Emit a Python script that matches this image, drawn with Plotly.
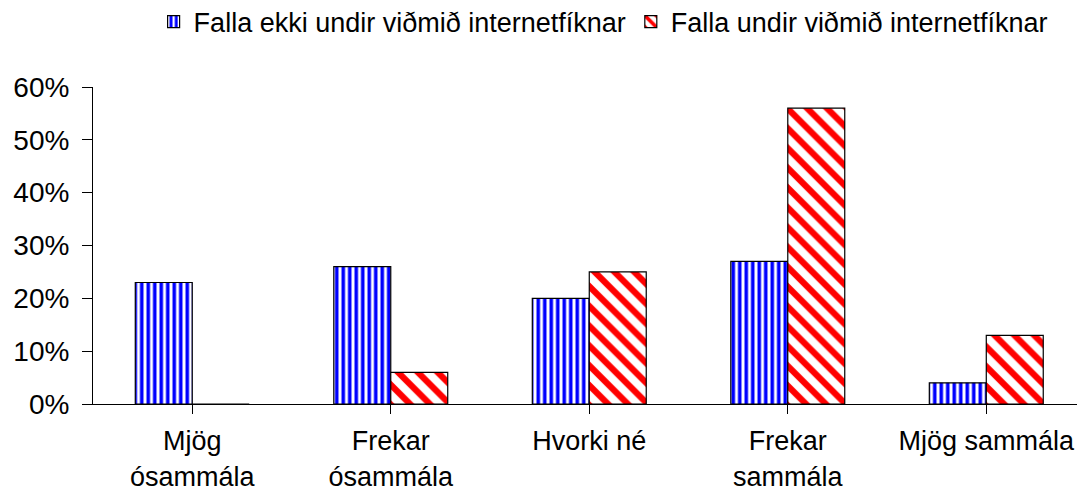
import plotly.graph_objects as go

categories = ["Mjög<br>ósammála", "Frekar<br>ósammála", "Hvorki né", "Frekar<br>sammála", "Mjög sammála"]
series_names = ["Falla ekki undir viðmið internetfíknar", "Falla undir viðmið internetfíknar"]
not_addicted = [0.23, 0.26, 0.20, 0.27, 0.04]
addicted = [0.0, 0.06, 0.25, 0.56, 0.13]
y_ticks = [0, 0.1, 0.2, 0.3, 0.4, 0.5, 0.6]
y_tick_labels = ["0%", "10%", "20%", "30%", "40%", "50%", "60%"]

font_family = "Liberation Sans, Arial, sans-serif"
FS = 27

fig = go.Figure()
fig.add_trace(go.Bar(
    x=list(range(len(categories))), y=not_addicted, name=series_names[0],
    marker=dict(color="white", line=dict(color="black", width=1.2),
                pattern=dict(shape="|", fgcolor="#0000FF", bgcolor="white",
                             size=6.5, solidity=0.55, fillmode="replace")),
))
fig.add_trace(go.Bar(
    x=list(range(len(categories))), y=addicted, name=series_names[1],
    marker=dict(color="white", line=dict(color="black", width=1.2),
                pattern=dict(shape="\\", fgcolor="#FF0000", bgcolor="white",
                             size=14, solidity=0.45, fillmode="replace")),
))

fig.update_layout(
    width=1077, height=496,
    margin=dict(l=93, r=0, t=87, b=92, autoexpand=False),
    paper_bgcolor="white", plot_bgcolor="white",
    barmode="group", bargap=0.426, bargroupgap=0,
    font=dict(family=font_family, size=FS, color="black"),
    legend=dict(orientation="h", xref="container", yref="container",
                x=0.56, xanchor="center", y=1 - 22 / 496, yanchor="middle",
                font=dict(size=FS), itemwidth=30, tracegroupgap=0,
                bgcolor="rgba(0,0,0,0)"),
    showlegend=True,
)
fig.update_xaxes(
    tickmode="array", tickvals=list(range(len(categories))), ticktext=categories,
    range=[-0.5, 4.457], showline=True, linecolor="black", linewidth=1,
    ticks="outside", ticklen=9, tickcolor="black", showgrid=False, zeroline=False,
    tickfont=dict(size=FS), tickangle=0, automargin=False, ticklabelstandoff=4,
)
fig.update_yaxes(
    range=[0, 0.6], tickvals=y_ticks, ticktext=y_tick_labels,
    showline=True, linecolor="black", linewidth=1, ticks="outside", ticklen=10,
    tickcolor="black", showgrid=False, zeroline=False, tickfont=dict(size=28),
    ticklabelstandoff=7, automargin=False,
)

fig.write_html(
    "out.html",
    config={"displayModeBar": False},
    post_script="document.body.style.margin='0';document.body.style.overflow='hidden';",
)
